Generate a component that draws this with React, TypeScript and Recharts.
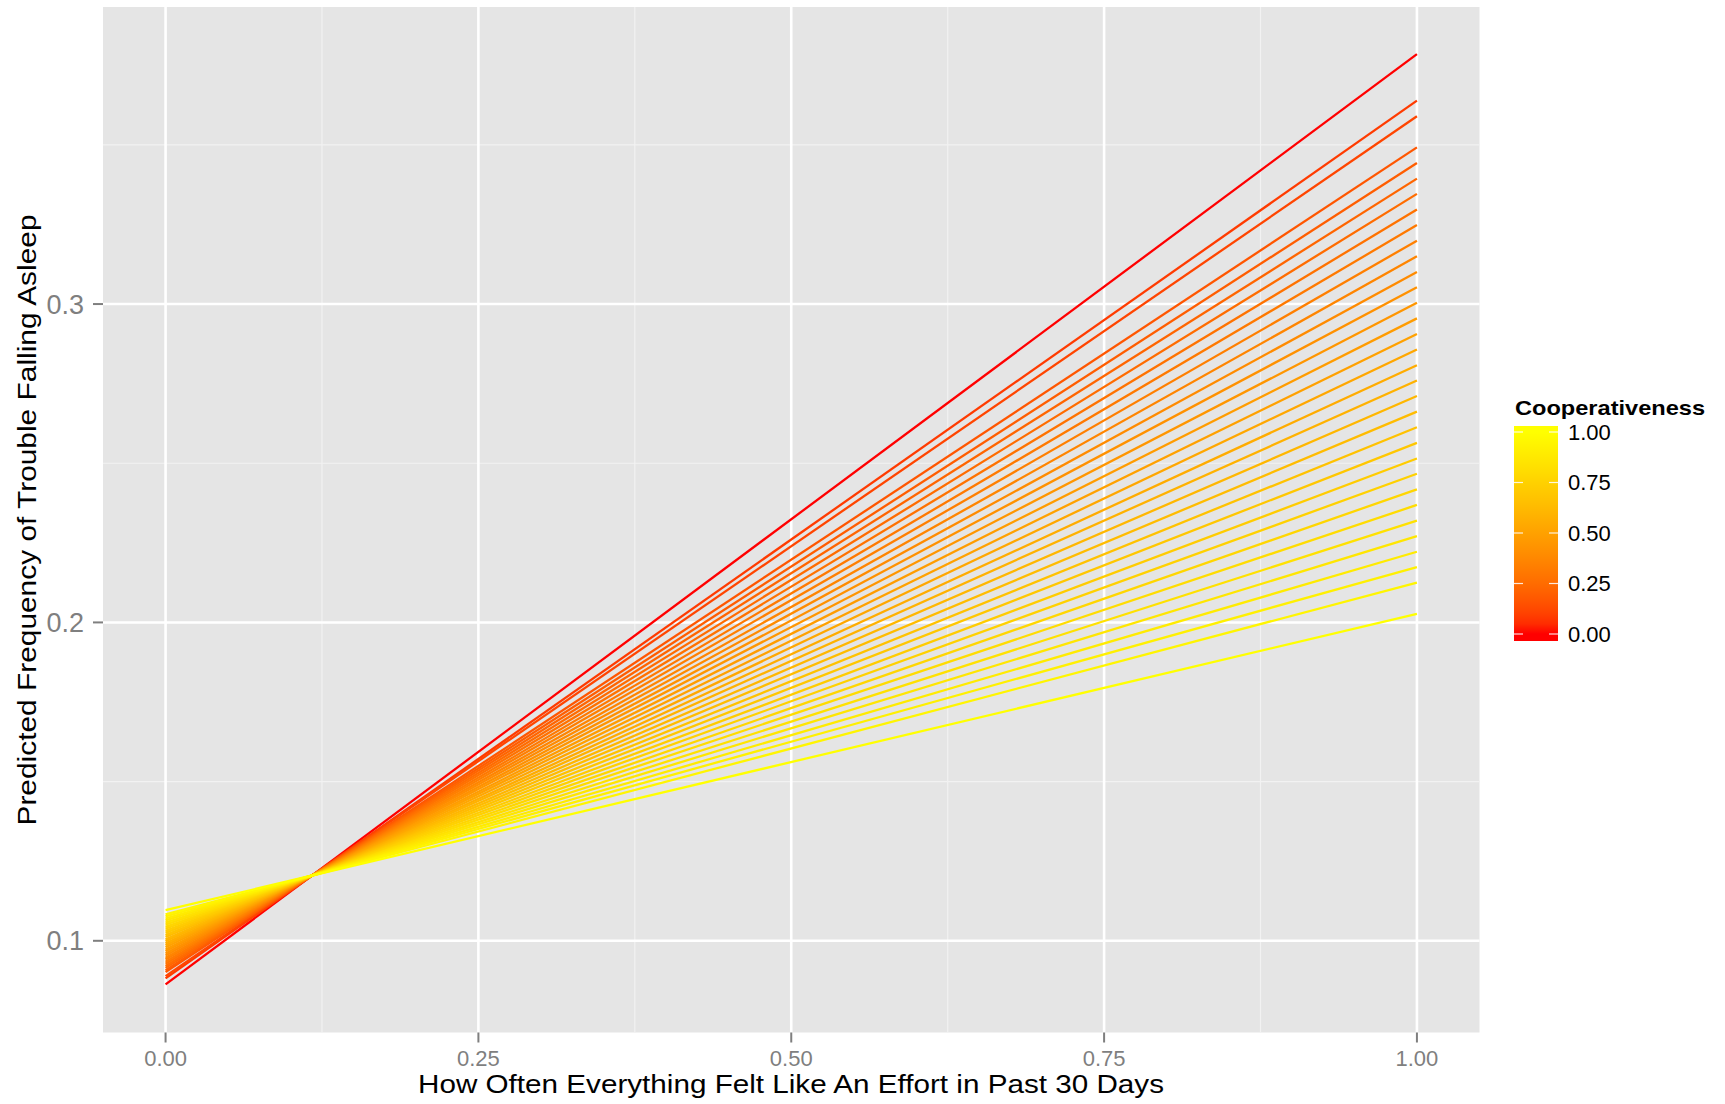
import { LineChart, Line, XAxis, YAxis, CartesianGrid } from 'recharts';

// ── Data ──────────────────────────────────────────────────────────────────────

const xValues = [0, 1];

const coopLevels = [
  0, 0.083, 0.111, 0.167, 0.194, 0.222, 0.25, 0.278, 0.306, 0.333, 0.361,
  0.389, 0.417, 0.444, 0.472, 0.5, 0.528, 0.556, 0.583, 0.611, 0.639, 0.667,
  0.694, 0.722, 0.75, 0.778, 0.806, 0.833, 0.861, 0.889, 0.917, 0.944, 1,
];

const yAtZero = [
  0.0863, 0.0882, 0.0889, 0.0902, 0.0908, 0.0915, 0.0921, 0.0928, 0.0934, 0.0941, 0.0947,
  0.0954, 0.0960, 0.0967, 0.0973, 0.0980, 0.0986, 0.0992, 0.0999, 0.1005, 0.1012, 0.1018,
  0.1025, 0.1031, 0.1038, 0.1044, 0.1051, 0.1057, 0.1064, 0.1070, 0.1077, 0.1083, 0.1096,
];

const yAtOne = [
  0.3785, 0.3639, 0.3590, 0.3492, 0.3443, 0.3394, 0.3346, 0.3297, 0.3248, 0.3199, 0.3150,
  0.3101, 0.3053, 0.3004, 0.2955, 0.2906, 0.2857, 0.2808, 0.2760, 0.2711, 0.2662, 0.2613,
  0.2564, 0.2515, 0.2467, 0.2418, 0.2369, 0.2320, 0.2271, 0.2222, 0.2174, 0.2125, 0.2027,
];

const xTicks = [0, 0.25, 0.5, 0.75, 1];
const xMinor = [0.125, 0.375, 0.625, 0.875];
const yTicks = [0.1, 0.2, 0.3];
const yMinor = [0.15, 0.25, 0.35];
const legendTicks = [0, 0.25, 0.5, 0.75, 1];

// ── Colour: red → yellow interpolated in Lab, like ggplot's gradient ─────────

function toLin(c: number) {
  c /= 255;
  return c <= 0.04045 ? c / 12.92 : Math.pow((c + 0.055) / 1.055, 2.4);
}
function fromLin(c: number) {
  const v = c <= 0.0031308 ? 12.92 * c : 1.055 * Math.pow(c, 1 / 2.4) - 0.055;
  return Math.round(Math.max(0, Math.min(1, v)) * 255);
}
function rgbToLab(r: number, g: number, b: number) {
  const R = toLin(r), G = toLin(g), B = toLin(b);
  const X = (0.4124 * R + 0.3576 * G + 0.1805 * B) / 0.95047;
  const Y = 0.2126 * R + 0.7152 * G + 0.0722 * B;
  const Z = (0.0193 * R + 0.1192 * G + 0.9505 * B) / 1.08883;
  const f = (t: number) => (t > 0.008856 ? Math.cbrt(t) : 7.787 * t + 16 / 116);
  const fx = f(X), fy = f(Y), fz = f(Z);
  return [116 * fy - 16, 500 * (fx - fy), 200 * (fy - fz)];
}
function labToHex(L: number, a: number, b: number) {
  const fy = (L + 16) / 116, fx = fy + a / 500, fz = fy - b / 200;
  const inv = (t: number) => (t > 0.206893 ? t * t * t : (t - 16 / 116) / 7.787);
  const X = inv(fx) * 0.95047, Y = inv(fy), Z = inv(fz) * 1.08883;
  const R = 3.2406 * X - 1.5372 * Y - 0.4986 * Z;
  const G = -0.9689 * X + 1.8758 * Y + 0.0415 * Z;
  const B = 0.0557 * X - 0.204 * Y + 1.057 * Z;
  return '#' + [R, G, B].map((c) => fromLin(c).toString(16).padStart(2, '0')).join('');
}
const LOW = rgbToLab(255, 0, 0);
const HIGH = rgbToLab(255, 255, 0);
function coopColor(t: number) {
  return labToHex(
    LOW[0] + (HIGH[0] - LOW[0]) * t,
    LOW[1] + (HIGH[1] - LOW[1]) * t,
    LOW[2] + (HIGH[2] - LOW[2]) * t,
  );
}

// ── Ticks ─────────────────────────────────────────────────────────────────────

const FONT = '"Liberation Sans", Arial, Helvetica, sans-serif';
const AXIS_GREY = '#7F7F7F';

function XTick({ x, y, payload }: any) {
  return (
    <text x={x} y={y} dy="0.71em" textAnchor="middle" fontFamily={FONT} fontSize={22} fill={AXIS_GREY}>
      {Number(payload.value).toFixed(2)}
    </text>
  );
}

function YTick({ x, y, payload }: any) {
  return (
    <text x={x} y={y} dy="0.355em" textAnchor="end" fontFamily={FONT} fontSize={27} fill={AXIS_GREY}>
      {Number(payload.value).toFixed(1)}
    </text>
  );
}

// ── Legend + titles overlay ───────────────────────────────────────────────────

function Overlay() {
  const barX = 1514, barW = 44, barTop = 426, barBottom = 641;
  const v0 = 634, v1 = 432; // y of legend values 0 and 1
  const yOf = (v: number) => v0 + (v1 - v0) * v;
  return (
    <svg width={1725} height={1104} style={{ position: 'absolute', left: 0, top: 0, pointerEvents: 'none' }}>
      <defs>
        <linearGradient id="coopbar" gradientUnits="userSpaceOnUse" x1={0} y1={v0} x2={0} y2={v1}>
          {Array.from({ length: 21 }, (_, i) => (
            <stop key={i} offset={i / 20} stopColor={coopColor(i / 20)} />
          ))}
        </linearGradient>
      </defs>

      {/* axis titles */}
      <text x={791} y={1093} textAnchor="middle" fontFamily={FONT} fontSize={25} fill="#000"
        textLength={746} lengthAdjust="spacingAndGlyphs">
        How Often Everything Felt Like An Effort in Past 30 Days
      </text>
      <text transform="translate(36,520) rotate(-90)" textAnchor="middle" fontFamily={FONT} fontSize={25} fill="#000"
        textLength={611} lengthAdjust="spacingAndGlyphs">
        Predicted Frequency of Trouble Falling Asleep
      </text>

      {/* colourbar legend */}
      <text x={1515} y={415} fontFamily={FONT} fontSize={21} fontWeight="bold" fill="#000"
        textLength={190} lengthAdjust="spacingAndGlyphs">
        Cooperativeness
      </text>
      <rect x={barX} y={barTop} width={barW} height={barBottom - barTop} fill="url(#coopbar)" />
      {legendTicks.map((v) => (
        <g key={v}>
          <line x1={barX} x2={barX + 9} y1={yOf(v)} y2={yOf(v)} stroke="#fff" strokeOpacity={0.85} strokeWidth={1.2} />
          <line x1={barX + barW - 9} x2={barX + barW} y1={yOf(v)} y2={yOf(v)} stroke="#fff" strokeOpacity={0.85} strokeWidth={1.2} />
          <text x={1568} y={yOf(v)} dy="0.36em" fontFamily={FONT} fontSize={22} fill="#000">
            {v.toFixed(2)}
          </text>
        </g>
      ))}
    </svg>
  );
}

// ── Main ──────────────────────────────────────────────────────────────────────

export default function App() {
  const series = coopLevels.map((c, i) => ({
    coop: c,
    color: coopColor(c),
    data: xValues.map((x, j) => ({ x, y: j === 0 ? yAtZero[i] : yAtOne[i] })),
  }));

  return (
    <div style={{ position: 'absolute', left: 0, top: 0, width: 1725, height: 1104, background: '#fff' }}>
      <LineChart width={1725} height={1104} margin={{ top: 7, right: 245.5, bottom: 11.5, left: 23 }}>
        <CartesianGrid fill="#E5E5E5" fillOpacity={1} stroke="#F2F2F2" strokeWidth={1.2}
          horizontalValues={yMinor} verticalValues={xMinor} />
        <CartesianGrid stroke="#FFFFFF" strokeWidth={2.6}
          horizontalValues={yTicks} verticalValues={xTicks} />
        <XAxis type="number" dataKey="x" domain={[-0.05, 1.05]} ticks={xTicks} allowDataOverflow
          height={60} axisLine={false} tickSize={10} tickMargin={7.5}
          tickLine={{ stroke: AXIS_GREY, strokeWidth: 2 }} tick={XTick} />
        <YAxis type="number" domain={[0.0712, 0.3933]} ticks={yTicks} allowDataOverflow
          width={80} axisLine={false} tickSize={10} tickMargin={9}
          tickLine={{ stroke: AXIS_GREY, strokeWidth: 2 }} tick={YTick} />
        {series.map((s) => (
          <Line key={s.coop} data={s.data} dataKey="y" type="linear" stroke={s.color}
            strokeWidth={2.3} dot={false} activeDot={false} isAnimationActive={false} />
        ))}
      </LineChart>
      <Overlay />
    </div>
  );
}
